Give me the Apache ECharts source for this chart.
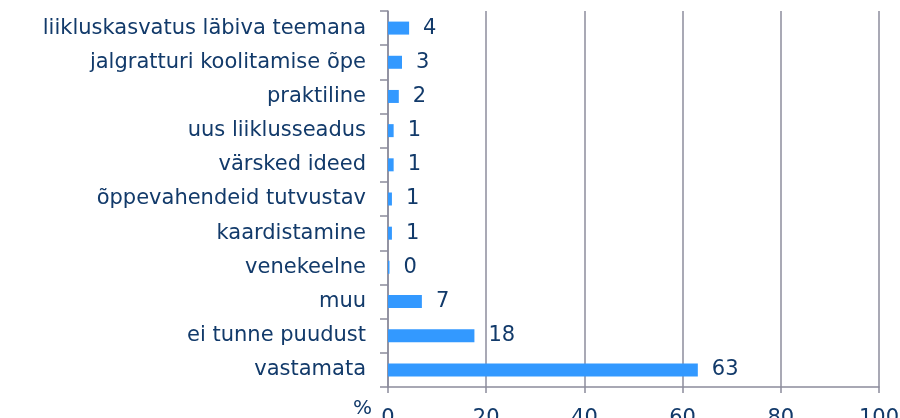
<!DOCTYPE html>
<html>
<head>
<meta charset="utf-8">
<script src="https://cdn.jsdelivr.net/npm/echarts@6/dist/echarts.min.js"></script>
<style>
  html, body { margin: 0; padding: 0; background: #fff; }
  #chart { width: 900px; height: 418px; }
</style>
</head>
<body>
<div id="chart"></div>
<script>
// kategooriad ülevalt alla
const categories = [
    'liikluskasvatus läbiva teemana',
    'jalgratturi koolitamise õpe',
    'praktiline',
    'uus liiklusseadus',
    'värsked ideed',
    'õppevahendeid tutvustav',
    'kaardistamine',
    'venekeelne',
    'muu',
    'ei tunne puudust',
    'vastamata'
];
// protsendid (loetud pildilt)
const values = [4.3, 2.85, 2.2, 1.15, 1.15, 0.8, 0.8, 0.3, 6.9, 17.6, 63.1];
// sildid tulpade kõrval
const labels = ['4', '3', '2', '1', '1', '1', '1', '0', '7', '18', '63'];
const xTicks = [0, 20, 40, 60, 80, 100];

const textColor = '#123a6a';
const gridColor = '#8c8c9c';
const font = 'DejaVu Sans, Verdana, sans-serif';

var myChart = echarts.init(document.getElementById('chart'));

let option = {
    animation: false,
    grid: {
        left: 388, right: 21, top: 11, bottom: 31,
        containLabel: false,
        outerBoundsMode: 'none'
    },
    xAxis: {
        type: 'value',
        min: xTicks[0],
        max: xTicks[xTicks.length - 1],
        interval: 20,
        axisLine: { show: true, lineStyle: { color: gridColor, width: 1.5 } },
        axisTick: { show: true, length: 6, lineStyle: { color: gridColor, width: 1.5 } },
        splitLine: { show: true, lineStyle: { color: gridColor, width: 1.5 } },
        axisLabel: { color: textColor, fontSize: 21, fontFamily: font, margin: 21 }
    },
    yAxis: {
        type: 'category',
        data: categories,
        inverse: true,
        axisLine: { show: true, lineStyle: { color: gridColor, width: 1.5 } },
        axisTick: { show: true, length: 8, lineStyle: { color: gridColor, width: 1.5 } },
        axisLabel: { color: textColor, fontSize: 21, fontFamily: font, margin: 22 }
    },
    graphic: [{
        type: 'text',
        left: 353,
        top: 399,
        style: { text: '%', fill: textColor, font: '20px ' + font }
    }],
    series: [{
        type: 'bar',
        data: values.map((v, i) => ({ value: v, label: { formatter: labels[i] } })),
        barWidth: 13,
        itemStyle: { color: '#3399ff' },
        label: {
            show: true,
            position: 'right',
            distance: 14,
            color: textColor,
            fontSize: 21,
            fontFamily: font
        }
    }]
};

myChart.setOption(option);
</script>
</body>
</html>
